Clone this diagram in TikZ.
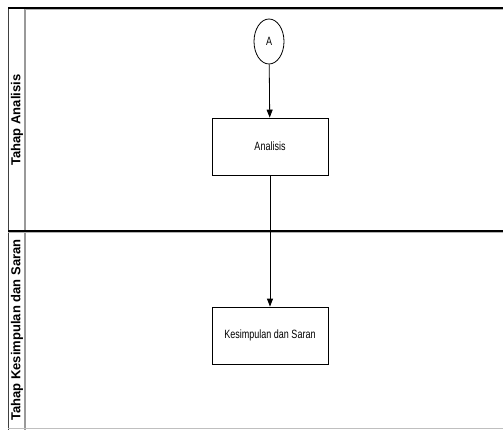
\documentclass[tikz,border=0pt]{standalone}
\usepackage{fontspec}
\setmainfont{Liberation Sans}
\usetikzlibrary{arrows.meta,shapes.geometric}
\tikzset{
  lanetitle/.style={font=\fontsize{13}{15}\selectfont\bfseries, rotate=90, inner sep=0pt},
  procbox/.style={draw, line width=0.8pt, minimum width=116pt, minimum height=57pt, inner sep=0pt,
    font=\fontsize{12}{14}\selectfont},
  connector/.style={ellipse, draw, line width=0.8pt, minimum width=30pt, minimum height=45pt, inner sep=0pt,
    font=\fontsize{12}{14}\selectfont},
  flow/.style={line width=0.8pt, -{Triangle[length=8pt,width=6pt]}},
  frame/.style={line width=1.2pt, black},
  divider/.style={line width=1.5pt, black!40},
}
\newcommand{\narrow}[1]{\scalebox{0.75}[1]{#1}}
\begin{document}
\begin{tikzpicture}[x=1pt,y=-1pt]
  \useasboundingbox[fill=white] (0,0) rectangle (503,430);
  % pool outline and lane dividers
  \draw[line width=1pt, black!75] (8,8) -- (8,430);
  \draw[divider] (25,8) -- (25,430);
  \draw[line width=1.2pt, black!25] (8,428.5) -- (503,428.5);
  \draw[frame] (8,8) -- (503,8);
  \draw[black!30, line width=0.6pt] (25,9.6) -- (503,9.6);
  \draw[frame] (8,231) -- (503,231);
  \draw[black!30, line width=0.6pt] (8,232.6) -- (503,232.6);
  % lane titles
  \node[lanetitle] (lane1) at (17,120) {Tahap Analisis};
  \node[lanetitle] (lane2) at (17,330) {Tahap Kesimpulan dan Saran};
  % flow
  \node[connector] (start) at (269,41.5) {\narrow{A}};
  \node[procbox] (analisis) at (270,146.5) {\narrow{Analisis}};
  \node[procbox] (kesimpulan) at (270,335.5) {\narrow{Kesimpulan dan Saran}};
  \draw[flow] (start) -- (analisis);
  \draw[flow] (analisis) -- (kesimpulan);
\end{tikzpicture}
\end{document}
